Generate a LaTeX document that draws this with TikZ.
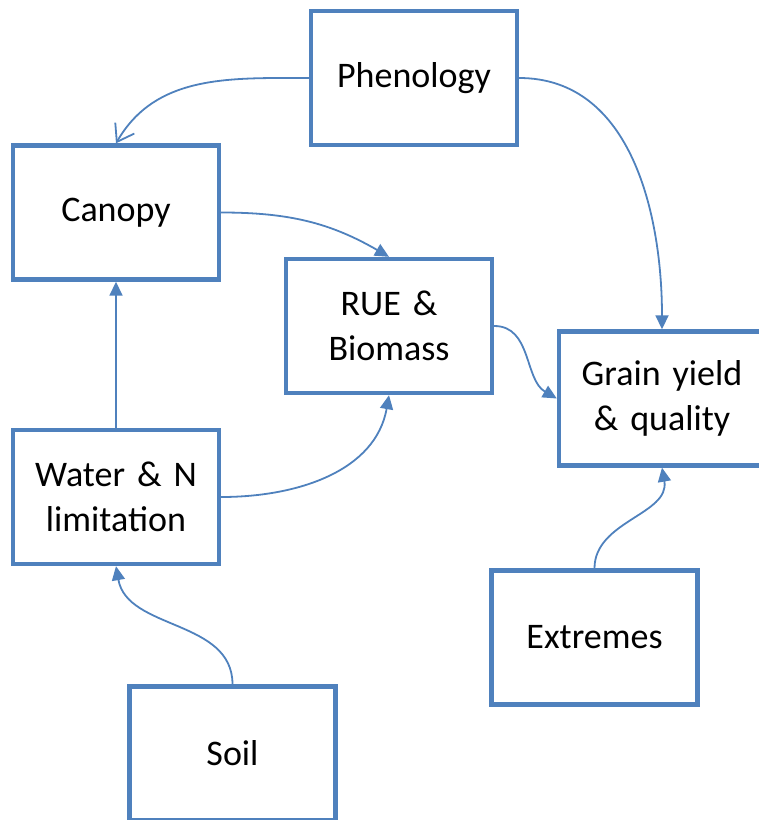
\documentclass[tikz,border=0pt]{standalone}
\usepackage{fontspec}
\setmainfont{Carlito}
\usepackage{tikz}
\usetikzlibrary{arrows.meta}
\definecolor{boxblue}{RGB}{79,129,189}
\tikzstyle{box} = [rectangle, minimum width=103pt, minimum height=67pt, text centered, text width=95pt, draw=boxblue, line width=2.2pt, fill=white, font=\fontsize{18}{22.5}\selectfont]
\tikzstyle{link} = [draw=boxblue, line width=0.9pt, -{Triangle[length=7pt, width=6.5pt]}]

\begin{document}
\begin{tikzpicture}[x=0.5pt, y=-0.5pt]
\useasboundingbox (0,0) rectangle (759,820);
\node (phen) [box] at (414,78) {Phenology};
\node (can) [box] at (116,212.5) {Canopy};
\node (rue) [box] at (389,326) {RUE \&\\ Biomass};
\node (grain) [box] at (662,398.5) {Grain yield\\ \& quality};
\node (water) [box] at (116,497) {Water \& N\\ limitation};
\node (ext) [box] at (594.5,637.5) {Extremes};
\node (soil) [box] at (232.5,753.5) {Soil};
\draw[link, -{Straight Barb[length=8pt, width=11pt]}] (phen.west) to[out=180, in=60] (can.north);
\draw[link] (phen.east) to[out=0, in=90] (grain.north);
\draw[link] (can.east) to[out=0, in=150] (rue.north);
\draw[link] (rue.east) to[out=0, in=150] (grain.west);
\draw[link] (water.east) to[out=0, in=-100] (rue.south);
\draw[link] (water) -- (can);
\draw[link] (soil.north) to[out=90, in=-80] (water.south);
\draw[link] (ext.north) to[out=90, in=-80] (grain.south);
\end{tikzpicture}
\end{document}
